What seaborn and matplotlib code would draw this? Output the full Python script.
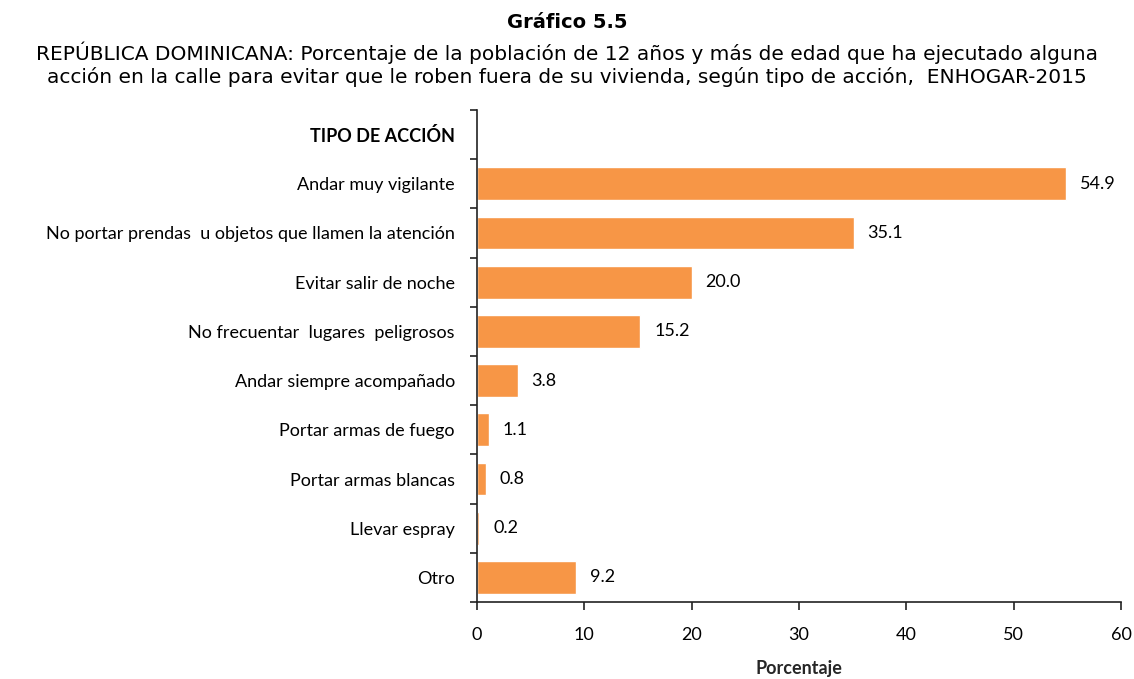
import numpy as np
import pandas as pd
import matplotlib
matplotlib.use("Agg")
import matplotlib.pyplot as plt
import seaborn as sns

# datos
categorias = ["Andar muy vigilante",
              "No portar prendas  u objetos que llamen la atención",
              "Evitar salir de noche",
              "No frecuentar  lugares  peligrosos",
              "Andar siempre acompañado",
              "Portar armas de fuego",
              "Portar armas blancas",
              "Llevar espray",
              "Otro"]
porcentajes = [54.9, 35.1, 20.0, 15.2, 3.8, 1.1, 0.8, 0.2, 9.2]
encabezado = "TIPO DE ACCIÓN"
xticks = [0, 10, 20, 30, 40, 50, 60]

df = pd.DataFrame({"tipo": categorias, "pct": porcentajes})

sns.set_theme(style="white")
plt.rcParams['font.family'] = ['Lato', 'DejaVu Sans']
plt.rcParams['text.color'] = 'black'
plt.rcParams['xtick.color'] = '#222222'
plt.rcParams['ytick.color'] = '#222222'

fig = plt.figure(figsize=(11.34, 6.79), dpi=100)
ax = fig.add_axes([477/1134, 1 - 602/679, (1121 - 477)/1134, (602 - 110)/679])

sns.barplot(data=df, x="pct", y="tipo", order=categorias, color="#F79646",
            saturation=1, width=0.67, ax=ax)

ax.set_xlim(0, 60)
ax.set_ylim(len(categorias) - 0.5, -1.5)
ax.set_xticks(xticks)
ax.set_xticklabels([str(t) for t in xticks], fontsize=13)
ax.set_yticks(range(-1, len(categorias)))
ax.set_yticklabels([encabezado] + categorias, fontsize=13)
ax.get_yticklabels()[0].set_fontweight("bold")
ax.set_yticks(np.arange(-1.5, len(categorias)), minor=True)
ax.tick_params(left=True, bottom=True)
ax.tick_params(axis="y", which="major", length=0, pad=16, labelcolor="black")
ax.tick_params(axis="y", which="minor", left=True, length=5, width=1.2, direction="out")
ax.tick_params(axis="x", length=6, width=1.2, direction="out", pad=12, labelcolor="black")
ax.set_ylabel("")
ax.set_xlabel("Porcentaje", fontsize=13, fontweight="bold", labelpad=12)

for s in ["top", "right"]:
    ax.spines[s].set_visible(False)
for s in ["left", "bottom"]:
    ax.spines[s].set_color("#222222")
    ax.spines[s].set_linewidth(1.2)

for i, v in enumerate(porcentajes):
    ax.annotate(f"{v:.1f}", xy=(v, i), xytext=(10, 0), textcoords="offset points",
                va="center", ha="left", fontsize=13)

fig.text(0.5, 1 - 22/679, "Gráfico 5.5", ha="center", va="center",
         fontsize=14, fontweight="bold", family=['DejaVu Sans'])
fig.text(0.5, 1 - 64/679,
         "REPÚBLICA DOMINICANA: Porcentaje de la población de 12 años y más de edad que ha ejecutado alguna\n"
         "acción en la calle para evitar que le roben fuera de su vivienda, según tipo de acción,  ENHOGAR-2015",
         ha="center", va="center", fontsize=14.5, linespacing=1.2,
         family=['DejaVu Sans'])

fig.savefig("out.png", dpi=100, facecolor="white")
